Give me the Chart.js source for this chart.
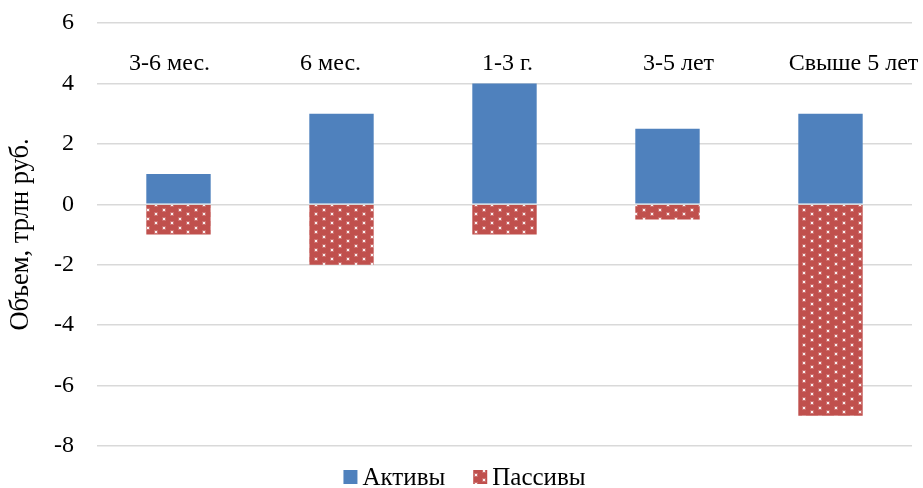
<!DOCTYPE html>
<html>
<head>
<meta charset="utf-8">
<script src="https://cdn.jsdelivr.net/npm/chart.js@4.4.1/dist/chart.umd.min.js"></script>
<style>
  html, body { margin: 0; padding: 0; background: #ffffff; }
  #wrap { width: 923px; height: 488px; }
</style>
</head>
<body>
<div id="wrap"><canvas id="chart" width="923" height="488"></canvas></div>
<script>
// Maturity buckets and volumes, trillion rubles
const categories = ['3-6 мес.', '6 мес.', '1-3 г.', '3-5 лет', 'Свыше 5 лет'];
const assets = [1, 3, 4, 2.5, 3];
const liabilities = [-1, -2, -1, -0.5, -7];
const yTickValues = [-8, -6, -4, -2, 0, 2, 4, 6];
const seriesNames = ['Активы', 'Пассивы'];
const yTitle = 'Объем, трлн руб.';

const FONT = '"Liberation Serif", "Times New Roman", serif';
const BLUE = '#4F81BD';
const RED = '#C0504D';

// Red fill with a staggered grid of small white dots
function dottedPattern() {
  const c = document.createElement('canvas');
  c.width = 16; c.height = 9;
  const g = c.getContext('2d');
  g.fillStyle = RED;
  g.fillRect(0, 0, 16, 9);
  g.fillStyle = 'rgba(255,255,255,0.18)';
  g.fillRect(2, 1, 4, 4);
  g.fillRect(10, 5, 4, 4);
  g.fillStyle = 'rgba(255,255,255,0.9)';
  g.fillRect(3, 2, 2, 2);
  g.fillRect(11, 6, 2, 2);
  return g.createPattern(c, 'repeat');
}
const redFill = dottedPattern();

// Bucket names written inside the plot, near its top edge
const labelNudge = [-9, -11, 3, 11, 23];
const bucketLabels = {
  id: 'bucketLabels',
  afterDatasetsDraw(chart) {
    const { ctx, chartArea, scales } = chart;
    ctx.save();
    ctx.font = '24px ' + FONT;
    ctx.fillStyle = '#000';
    ctx.textAlign = 'center';
    ctx.textBaseline = 'alphabetic';
    categories.forEach((name, i) => {
      const x = scales.x.getPixelForValue(i) + labelNudge[i];
      ctx.fillText(name, x, chartArea.top + 47);
    });
    ctx.restore();
  }
};

// Legend centred under the plot, square swatches close to their text
const bottomLegend = {
  id: 'bottomLegend',
  afterDraw(chart) {
    const { ctx, width } = chart;
    const box = 14, gap = 5, between = 28;
    ctx.save();
    ctx.font = '25px ' + FONT;
    const widths = chart.data.datasets.map(d => ctx.measureText(d.label).width);
    const total = widths.reduce((s, w) => s + box + gap + w, 0) + between * (widths.length - 1);
    let x = width / 2 + 3 - total / 2;
    const baseline = 485;
    chart.data.datasets.forEach((d, i) => {
      ctx.fillStyle = d.backgroundColor;
      ctx.fillRect(x, baseline - 15, box, box);
      x += box + gap;
      ctx.fillStyle = '#000';
      ctx.textAlign = 'left';
      ctx.textBaseline = 'alphabetic';
      ctx.fillText(d.label, x, baseline);
      x += widths[i] + between;
    });
    ctx.restore();
  }
};

new Chart(document.getElementById('chart'), {
  type: 'bar',
  data: {
    labels: categories,
    datasets: [
      { label: seriesNames[0], data: assets, backgroundColor: BLUE },
      { label: seriesNames[1], data: liabilities, backgroundColor: redFill }
    ]
  },
  options: {
    responsive: false,
    devicePixelRatio: 1,
    animation: false,
    layout: { padding: { left: 0, right: 11, top: 23, bottom: 42 } },
    datasets: { bar: { categoryPercentage: 1, barPercentage: 0.395, borderWidth: 0 } },
    plugins: { legend: { display: false }, tooltip: { enabled: false } },
    scales: {
      x: { display: false, stacked: true },
      y: {
        stacked: true,
        min: -8,
        max: 6,
        afterBuildTicks(scale) { scale.ticks = yTickValues.map(v => ({ value: v })); },
        afterFit(scale) {
          // fixed axis width; plot top/bottom come from the layout padding alone
          scale.width = 97;
          scale.paddingTop = 0;
          scale.paddingBottom = 0;
        },
        border: { display: false },
        grid: { color: '#D9D9D9', lineWidth: 1.5, drawTicks: false },
        ticks: { padding: 23, color: '#000', font: { family: FONT, size: 24 } },
        title: {
          display: true,
          text: yTitle,
          color: '#000',
          font: { family: FONT, size: 26.5, lineHeight: 1.2 },
          padding: { top: 5, bottom: 0 }
        }
      }
    }
  },
  plugins: [bucketLabels, bottomLegend]
});
</script>
</body>
</html>
